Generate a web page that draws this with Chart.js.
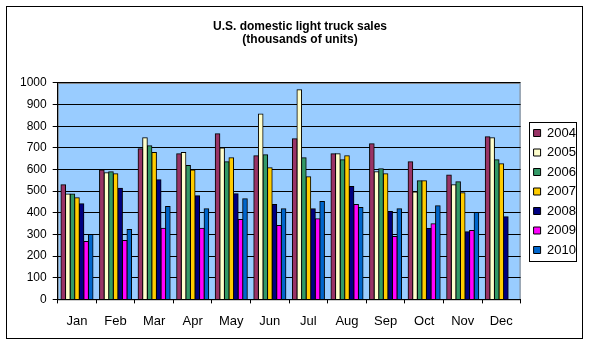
<!DOCTYPE html>
<html>
<head>
<meta charset="utf-8">
<script src="https://cdn.jsdelivr.net/npm/chart.js@4"></script>
<style>
  body { margin: 0; background: #fff; }
  #wrap { width: 589px; height: 345px; position: relative; }
</style>
</head>
<body>
<div id="wrap"><canvas id="truckChart" width="589" height="345"></canvas></div>
<script>
const months = ["Jan", "Feb", "Mar", "Apr", "May", "Jun", "Jul", "Aug", "Sep", "Oct", "Nov", "Dec"];
const yTicks = [0, 100, 200, 300, 400, 500, 600, 700, 800, 900, 1000];

const sales2004 = [530, 598, 696, 673, 765, 664, 742, 673, 719, 636, 575, 751];
const sales2005 = [487, 585, 747, 679, 699, 857, 968, 673, 590, 496, 530, 747];
const sales2006 = [487, 590, 710, 618, 636, 668, 654, 645, 604, 548, 544, 645];
const sales2007 = [470, 581, 679, 598, 654, 608, 567, 664, 581, 548, 493, 627];
const sales2008 = [442, 513, 553, 479, 488, 438, 419, 521, 406, 327, 313, 382];
const sales2009 = [267, 272, 329, 329, 369, 341, 373, 438, 290, 350, 318, null];
const sales2010 = [300, 323, 429, 419, 465, 419, 452, 424, 419, 433, 401, null];

const yearNames = ["2004", "2005", "2006", "2007", "2008", "2009", "2010"];
const yearColors = ["#993366", "#ffffcc", "#339966", "#ffcc00", "#000080", "#ff00ff", "#0066cc"];
const allSeries = [sales2004, sales2005, sales2006, sales2007, sales2008, sales2009, sales2010];

const fontFamily = "'Liberation Sans', Arial, sans-serif";

// blue plot background, outer frame and legend frame
const frames = {
  id: "frames",
  beforeDraw(chart) {
    const { ctx, chartArea } = chart;
    ctx.save();
    ctx.fillStyle = "#ffffff";
    ctx.fillRect(0, 0, chart.width, chart.height);
    ctx.fillStyle = "#99ccff";
    ctx.fillRect(chartArea.left, chartArea.top, chartArea.right - chartArea.left, chartArea.bottom - chartArea.top);
    ctx.strokeStyle = "#808080";
    ctx.lineWidth = 1;
    ctx.strokeRect(chartArea.left + 0.5, chartArea.top + 0.5, chartArea.right - chartArea.left - 1, chartArea.bottom - chartArea.top);
    ctx.restore();
  },
  afterDraw(chart) {
    const { ctx } = chart;
    ctx.save();
    ctx.strokeStyle = "#000";
    ctx.lineWidth = 1;
    ctx.strokeRect(6.5, 6.5, 576, 332);
    const boxes = chart.legend.legendHitBoxes;
    if (boxes && boxes.length) {
      const first = boxes[0];
      const last = boxes[boxes.length - 1];
      const left = first.left - 5;
      const top = first.top - 5;
      const right = Math.max(...boxes.map((b) => b.left + b.width)) - 0.5;
      const bottom = last.top + last.height + 4;
      ctx.strokeRect(Math.round(left) + 0.5, Math.round(top) + 0.5, Math.round(right - left), Math.round(bottom - top));
    }
    ctx.restore();
  },
};

new Chart(document.getElementById("truckChart"), {
  type: "bar",
  data: {
    labels: months,
    datasets: yearNames.map((name, i) => ({
      label: name,
      data: allSeries[i],
      backgroundColor: yearColors[i],
      borderColor: "#000000",
      borderWidth: 1,
      inflateAmount: 0.5,
      categoryPercentage: 0.83,
      barPercentage: 1.0,
      yAxisID: "y",
    })),
  },
  options: {
    responsive: false,
    animation: false,
    devicePixelRatio: 1,
    layout: {
      padding: { top: 8, left: 14, right: 3, bottom: 6 },
    },
    plugins: {
      title: {
        display: true,
        text: ["U.S. domestic light truck sales", "(thousands of units)"],
        color: "#000",
        font: { family: fontFamily, size: 12, weight: "bold", lineHeight: 1.08 },
        padding: { top: 12, bottom: 37 },
      },
      legend: {
        position: "right",
        // empty title only pushes the items down a bit
        title: { display: true, text: "", padding: 17, font: { size: 2, lineHeight: 1 } },
        labels: {
          color: "#000",
          font: { family: fontFamily, size: 13 },
          boxWidth: 7,
          boxHeight: 7,
          padding: 6.5,
        },
      },
      tooltip: { enabled: false },
    },
    scales: {
      x: {
        offset: true,
        grid: {
          offset: true,
          drawOnChartArea: false,
          drawTicks: true,
          tickLength: 4,
          color: "#000",
        },
        border: { color: "#000", width: 1 },
        ticks: {
          color: "#000",
          font: { family: fontFamily, size: 13 },
          padding: 10,
          maxRotation: 0,
        },
      },
      y: {
        min: 0,
        max: 1000,
        afterBuildTicks: (axis) => {
          axis.ticks = yTicks.map((v) => ({ value: v }));
        },
        grid: {
          color: "#000",
          tickLength: 5,
        },
        border: { color: "#000", width: 1 },
        ticks: {
          color: "#000",
          font: { family: fontFamily, size: 12 },
          padding: 6,
          callback: (value) => String(value),
        },
      },
      // empty axis on the right: only keeps a gap before the legend
      gap: {
        type: "linear",
        position: "right",
        display: true,
        grid: { display: false, drawTicks: false },
        border: { display: false },
        ticks: { display: false },
        afterFit: (scale) => {
          scale.width = 6.5;
        },
      },
    },
  },
  plugins: [frames],
});
</script>
</body>
</html>
